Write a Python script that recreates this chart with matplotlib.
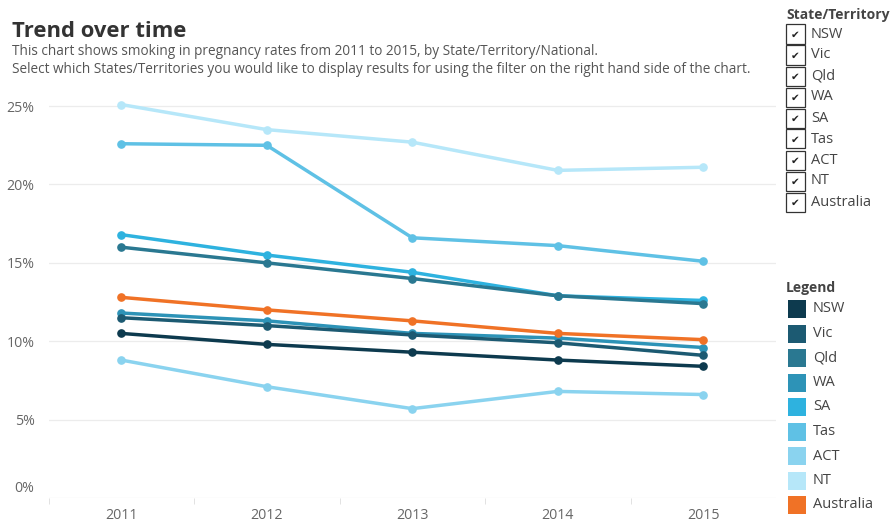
import matplotlib
matplotlib.use("Agg")
import matplotlib.pyplot as plt
from matplotlib.patches import Rectangle
from matplotlib.transforms import ScaledTranslation
from matplotlib.ticker import FuncFormatter

plt.rcParams['font.family'] = ['Open Sans', 'DejaVu Sans']

# Smoking in pregnancy rates (%), by State/Territory/National
years = [2011, 2012, 2013, 2014, 2015]
nsw = [10.5, 9.8, 9.3, 8.8, 8.4]
vic = [11.5, 11.0, 10.4, 9.9, 9.1]
qld = [16.0, 15.0, 14.0, 12.9, 12.4]
wa = [11.8, 11.3, 10.5, 10.2, 9.6]
sa = [16.8, 15.5, 14.4, 12.9, 12.6]
tas = [22.6, 22.5, 16.6, 16.1, 15.1]
act = [8.8, 7.1, 5.7, 6.8, 6.6]
nt = [25.1, 23.5, 22.7, 20.9, 21.1]
australia = [12.8, 12.0, 11.3, 10.5, 10.1]

names = ["NSW", "Vic", "Qld", "WA", "SA", "Tas", "ACT", "NT", "Australia"]
series = [nsw, vic, qld, wa, sa, tas, act, nt, australia]
colours = ["#0d3a4e", "#1c5a72", "#2a7891", "#2d93b7", "#2eb2df",
           "#5fc1e5", "#8ad3ef", "#b6e7f9", "#f07226"]

W, H = 891, 523
fig = plt.figure(figsize=(W / 100, H / 100), dpi=100)
fig.patch.set_facecolor("white")


def px(x, y):
    # pixel position (from top-left) -> figure fraction
    return x / W, 1 - y / H


ax = fig.add_axes([48.5 / W, 1 - 498 / H, (776 - 48.5) / W, (498 - 92) / H])

# draw NT first so the darker lines and Australia end up on top
for name, vals, col in list(zip(names, series, colours))[::-1]:
    ax.plot(years, vals, color=col, lw=2.5, marker="o", ms=5.2,
            solid_capstyle="round", zorder=3 if name == "Australia" else 2)

ax.set_xlim(2010.5, 2015.5)
ax.set_ylim(0, 25.9)
ax.set_xticks(years)
ax.set_xticks([2010.5, 2011.5, 2012.5, 2013.5, 2014.5], minor=True)
ax.set_yticks([0, 5, 10, 15, 20, 25])
ax.yaxis.set_major_formatter(FuncFormatter(lambda v, p: f"{v:.0f}%"))
ax.grid(axis="y", color="#ececec", lw=0.9)
ax.set_axisbelow(True)
for s in ax.spines.values():
    s.set_visible(False)
ax.tick_params(axis="both", which="major", length=0, labelsize=10.2,
               labelcolor="#666666")
ax.tick_params(axis="x", pad=7)
ax.tick_params(axis="y", pad=10)
ax.tick_params(axis="x", which="minor", length=4, color="#dddddd",
               direction="out")

# the 0% label sits a bit above the axis bottom
zero_lab = ax.get_yticklabels()[0]
zero_lab.set_transform(zero_lab.get_transform() +
                       ScaledTranslation(0, 8 / 72, fig.dpi_scale_trans))

# header
fig.text(*px(12, 37), "Trend over time", fontsize=15.8, fontweight="bold",
         color="#333333", va="baseline")
fig.text(*px(12, 55), "This chart shows smoking in pregnancy rates from 2011 to 2015, by State/Territory/National.",
         fontsize=9.8, color="#555555", va="baseline")
fig.text(*px(12, 73), "Select which States/Territories you would like to display results for using the filter on the right hand side of the chart.",
         fontsize=9.8, color="#555555", va="baseline")

# filter panel
fig.text(*px(786, 15), "State/Territory", fontsize=10, fontweight="bold",
         color="#444444", va="center")
for i, name in enumerate(names):
    cy = 34 + i * 21
    bx, by = px(786, cy + 9.5)
    fig.patches.append(Rectangle((bx, by), 19 / W, 19 / H, transform=fig.transFigure,
                                 facecolor="white", edgecolor="#333333", lw=0.9))
    fig.text(*px(795.5, cy + 1), "\u2714", fontsize=7.5, color="#222222",
             ha="center", va="center", family="DejaVu Sans")
    fig.text(*px(811, cy), name, fontsize=10.5, color="#444444", va="center")

# colour legend
fig.text(*px(786, 288), "Legend", fontsize=10, fontweight="bold",
         color="#444444", va="center")
for i, (name, col) in enumerate(zip(names, colours)):
    cy = 309 + i * 24.5
    bx, by = px(788, cy + 9)
    fig.patches.append(Rectangle((bx, by), 18 / W, 18 / H, transform=fig.transFigure,
                                 facecolor=col, edgecolor="none"))
    fig.text(*px(813, cy), name, fontsize=10.5, color="#444444", va="center")

fig.savefig("out.png", dpi=100, facecolor="white")
